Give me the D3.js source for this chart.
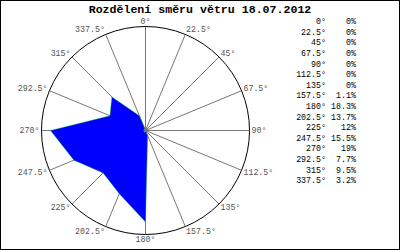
<!DOCTYPE html>
<html>
<head>
<meta charset="utf-8">
<script src="https://cdn.jsdelivr.net/npm/d3@7"></script>
<style>
  body { margin: 0; background: #fff; }
  svg { display: block; }
</style>
</head>
<body>
<div id="chart"></div>
<script>
// wind direction sectors and share of time (%)
const directions = [0, 22.5, 45, 67.5, 90, 112.5, 135, 157.5, 180, 202.5, 225, 247.5, 270, 292.5, 315, 337.5];
const dirLabels = ["0°", "22.5°", "45°", "67.5°", "90°", "112.5°", "135°", "157.5°", "180°", "202.5°", "225°", "247.5°", "270°", "292.5°", "315°", "337.5°"];
const shares = [0, 0, 0, 0, 0, 0, 0, 1.1, 18.3, 13.7, 12, 15.5, 19, 7.7, 9.5, 3.2];
const shareLabels = ["0%", "0%", "0%", "0%", "0%", "0%", "0%", "1.1%", "18.3%", "13.7%", "12%", "15.5%", "19%", "7.7%", "9.5%", "3.2%"];

const width = 400, height = 250;
const cx = 145.5, cy = 130.5, R = 104;
const mono = "'Liberation Mono', 'DejaVu Sans Mono', monospace";

const svg = d3.select("#chart")
  .append("svg")
  .attr("width", width)
  .attr("height", height);

svg.append("rect")
  .attr("x", 0.5).attr("y", 0.5)
  .attr("width", width - 1).attr("height", height - 1)
  .attr("fill", "#fff")
  .attr("stroke", "#000");

svg.append("text")
  .attr("x", 200).attr("y", 9)
  .attr("text-anchor", "middle")
  .attr("dominant-baseline", "central")
  .style("font-family", mono)
  .style("font-size", "11.6px")
  .style("font-weight", "bold")
  .text("Rozdělení směru větru 18.07.2012");

const g = svg.append("g")
  .attr("transform", "translate(" + cx + "," + cy + ")");

const r = d3.scaleLinear().domain([0, 20.8]).range([0, R]);
const rad = d => d * Math.PI / 180;

// spokes
g.selectAll(".spoke")
  .data(directions)
  .join("line")
  .attr("class", "spoke")
  .attr("x1", 0).attr("y1", 0)
  .attr("x2", d => R * Math.sin(rad(d)))
  .attr("y2", d => -R * Math.cos(rad(d)))
  .attr("stroke", "#777")
  .attr("stroke-width", 1);

g.append("circle")
  .attr("r", R)
  .attr("fill", "none")
  .attr("stroke", "#000");

// wind rose polygon
const radial = d3.lineRadial()
  .angle((d, i) => rad(directions[i]))
  .radius(d => r(d))
  .curve(d3.curveLinearClosed);

g.append("path")
  .datum(shares)
  .attr("d", radial)
  .attr("fill", "#0000ff")
  .attr("stroke", "#00cc00")
  .attr("stroke-width", 0.4);

g.append("circle")
  .attr("r", 2)
  .attr("fill", "#777");

// direction labels around circle
g.selectAll(".dir")
  .data(directions)
  .join("text")
  .attr("class", "dir")
  .attr("x", d => (R + 2) * Math.sin(rad(d)))
  .attr("y", d => -(R + 5) * Math.cos(rad(d)))
  .attr("text-anchor", d => (d === 0 || d === 180) ? "middle" : (d < 180 ? "start" : "end"))
  .attr("dominant-baseline", "central")
  .attr("fill", "#555")
  .style("font-family", mono)
  .style("font-size", "8.3px")
  .text((d, i) => dirLabels[i]);

// legend table
const row = d3.scaleLinear().domain([0, 15]).range([21.6, 180.7]);

svg.selectAll(".ldir")
  .data(dirLabels)
  .join("text")
  .attr("class", "ldir")
  .attr("x", 326)
  .attr("y", (d, i) => row(i))
  .attr("text-anchor", "end")
  .attr("dominant-baseline", "central")
  .style("font-family", mono)
  .style("font-size", "8.3px")
  .text(d => d);

svg.selectAll(".lval")
  .data(shareLabels)
  .join("text")
  .attr("class", "lval")
  .attr("x", 356)
  .attr("y", (d, i) => row(i))
  .attr("text-anchor", "end")
  .attr("dominant-baseline", "central")
  .style("font-family", mono)
  .style("font-size", "8.3px")
  .text(d => d);
</script>
</body>
</html>
